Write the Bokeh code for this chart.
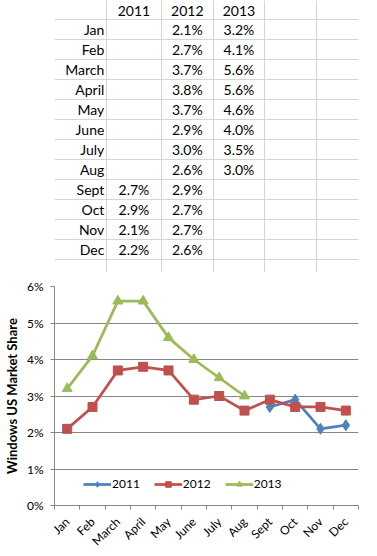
import math
import numpy as np
from bokeh.plotting import figure
from bokeh.layouts import column
from bokeh.models import (Range1d, FixedTicker, CustomJSTickFormatter, NumeralTickFormatter,
                          Legend, LegendItem)
from bokeh.core.properties import value
from bokeh.embed import file_html
from bokeh.resources import INLINE

# ---------------- data ----------------
months = ["Jan", "Feb", "March", "April", "May", "June", "July", "Aug", "Sept", "Oct", "Nov", "Dec"]
years = ["2011", "2012", "2013"]
share_2011 = [None, None, None, None, None, None, None, None, 2.7, 2.9, 2.1, 2.2]
share_2012 = [2.1, 2.7, 3.7, 3.8, 3.7, 2.9, 3.0, 2.6, 2.9, 2.7, 2.7, 2.6]
share_2013 = [3.2, 4.1, 5.6, 5.6, 4.6, 4.0, 3.5, 3.0, None, None, None, None]
y_ticks = [0, 1, 2, 3, 4, 5, 6]
y_title = "Windows US Market Share"

FONT = "Lato"
GRID_TABLE = "#d4d4d4"
GRID_CHART = "#868686"
COLORS = ["#4f81bd", "#c0504d", "#9bbb59"]

# ---------------- table (spreadsheet) ----------------
W = 377
col_edges = [0, 64.3, 132.7, 196.7, 260.7, 325.0, 389.0]
row_h = 20.0
first_center = 9.3
top_px, bottom_px = 0.0, 272.0

t = figure(width=W, height=int(bottom_px - top_px), output_backend="svg", toolbar_location=None,
           x_range=Range1d(0, W),
           y_range=Range1d((bottom_px - first_center) / row_h, (top_px - first_center) / row_h),
           min_border=0, outline_line_color=None)
t.axis.visible = False
t.grid.visible = False
t.background_fill_color = "white"
t.border_fill_color = "white"

n_rows = len(months) + 1
t.hspan(y=[r + 0.5 for r in range(n_rows)], line_color=GRID_TABLE, line_width=1)
t.vspan(x=col_edges[1:6], line_color=GRID_TABLE, line_width=1)

TFS = "14px"
centers = [(col_edges[i + 1] + col_edges[i + 2]) / 2 for i in range(3)]
t.text(x=centers, y=[0.08] * 3, text=years, text_font=value(FONT),
       text_font_size=TFS, text_align="center", text_baseline="middle", text_color="black")
t.text(x=[col_edges[1] - 2.5] * len(months), y=list(range(1, len(months) + 1)), text=months,
       text_font=value(FONT), text_font_size=TFS, text_align="right",
       text_baseline="middle", text_color="black")
for ci, series in enumerate([share_2011, share_2012, share_2013]):
    xs, ys, txt = [], [], []
    for ri, v in enumerate(series):
        if v is not None:
            xs.append(centers[ci]); ys.append(ri + 1); txt.append(f"{v:.1f}%")
    t.text(x=xs, y=ys, text=txt, text_font=value(FONT), text_font_size=TFS,
           text_align="center", text_baseline="middle", text_color="black")

# ---------------- chart ----------------
p = figure(width=W, height=284, output_backend="svg", toolbar_location=None,
           x_range=Range1d(0, len(months)), y_range=Range1d(0, 0.06),
           min_border_left=50, min_border_right=19, min_border_top=14, min_border_bottom=49,
           outline_line_color=None)
p.background_fill_color = "white"
p.border_fill_color = "white"

xs = np.arange(len(months)) + 0.5

def arr(s):
    return np.array([np.nan if v is None else v / 100.0 for v in s])

markers = ["diamond", "square", "triangle"]
sizes = [11, 9, 10]
items = []
for name, s, c, m, sz in zip(years, [share_2011, share_2012, share_2013], COLORS, markers, sizes):
    ys = arr(s)
    ln = p.line(xs, ys, line_color=c, line_width=2.75)
    sc = p.scatter(xs, ys, marker=m, size=sz, fill_color=c, line_color=c)
    items.append(LegendItem(label=name, renderers=[ln, sc]))

CFS = "12px"
legend = Legend(items=items, orientation="horizontal", location=(29, 14),
                padding=0, margin=0, spacing=14, label_standoff=1,
                glyph_width=28, glyph_height=14, label_height=14,
                border_line_color=None, background_fill_alpha=0,
                label_text_font=FONT, label_text_font_size=CFS, label_text_color="black")
p.add_layout(legend, "center")

p.yaxis.ticker = FixedTicker(ticks=[v / 100.0 for v in y_ticks])
p.yaxis.formatter = NumeralTickFormatter(format="0%")
p.yaxis.axis_line_color = GRID_CHART
p.yaxis.major_tick_line_color = GRID_CHART
p.yaxis.major_tick_out = 4
p.yaxis.major_tick_in = 0
p.yaxis.minor_tick_line_color = None
p.yaxis.major_label_standoff = 7
p.yaxis.major_label_text_font = FONT
p.yaxis.major_label_text_font_size = CFS
p.yaxis.major_label_text_color = "black"
p.yaxis.axis_label = y_title
p.yaxis.axis_label_text_font = FONT
p.yaxis.axis_label_text_font_size = "13px"
p.yaxis.axis_label_text_font_style = "bold"
p.yaxis.axis_label_text_color = "black"
p.yaxis.axis_label_standoff = 4

p.ygrid.ticker = FixedTicker(ticks=[v / 100.0 for v in y_ticks])
p.ygrid.grid_line_color = GRID_CHART
p.xgrid.visible = False

p.xaxis.ticker = FixedTicker(ticks=list(xs), minor_ticks=list(range(len(months) + 1)))
p.xaxis.formatter = CustomJSTickFormatter(args=dict(months=months),
                                          code="return months[Math.floor(tick)] || '';")
p.xaxis.axis_line_color = GRID_CHART
p.xaxis.major_tick_line_color = None
p.xaxis.minor_tick_line_color = GRID_CHART
p.xaxis.minor_tick_out = 4
p.xaxis.minor_tick_in = 0
p.xaxis.major_label_orientation = math.pi / 4
p.xaxis.major_label_standoff = 8
p.xaxis.major_label_text_font = FONT
p.xaxis.major_label_text_font_size = CFS
p.xaxis.major_label_text_color = "black"

layout = column(t, p, spacing=0)
open("out.html", "w").write(file_html(layout, INLINE))
